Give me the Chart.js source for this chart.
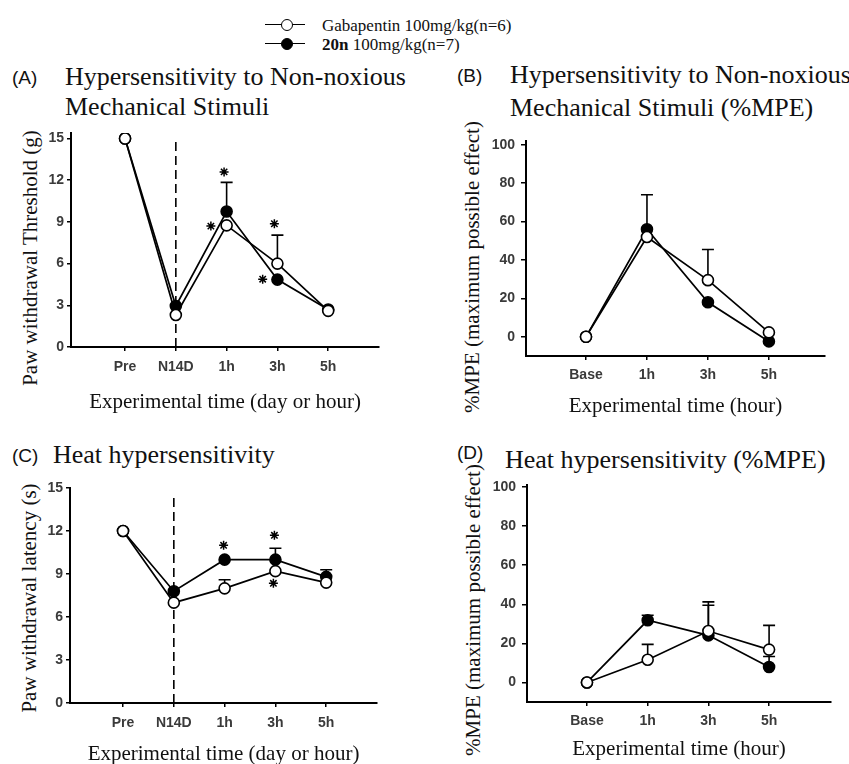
<!DOCTYPE html>
<html>
<head>
<meta charset="utf-8">
<script src="https://cdn.jsdelivr.net/npm/chart.js@4.4.0/dist/chart.umd.min.js"></script>
<style>
body{margin:0;background:#fff;}
#fig{position:relative;width:849px;height:764px;overflow:hidden;background:#fff;}
canvas{position:absolute;}
.t{position:absolute;white-space:nowrap;transform:translateY(-50%);font-family:"Liberation Serif","Times New Roman",serif;color:#111;line-height:1;}
.yt{position:absolute;white-space:nowrap;transform:translate(-50%,-50%) rotate(-90deg);font-family:"Liberation Serif","Times New Roman",serif;font-size:21px;color:#111;line-height:1;}
.lab{font-family:"Liberation Sans",Arial,sans-serif;font-size:19px;}
.ttl{font-size:26px;}
.leg{font-size:17px;}
.ln{position:absolute;width:40px;height:0;border-top:1.7px solid #000;}
.mk{position:absolute;width:10px;height:10px;border:1.5px solid #000;border-radius:50%;}
</style>
</head>
<body>
<div id="fig">
  <!-- legend -->
  <div class="ln" style="left:265px;top:24px"></div>
  <div class="mk" style="left:281px;top:19px;background:#fff"></div>
  <div class="t leg" style="left:322px;top:25px">Gabapentin 100mg/kg(n=6)</div>
  <div class="ln" style="left:265px;top:43px"></div>
  <div class="mk" style="left:281px;top:38px;background:#000"></div>
  <div class="t leg" style="left:322px;top:44px"><b>20n</b> 100mg/kg(n=7)</div>

  <!-- panel titles -->
  <div class="t lab" style="left:12px;top:77px">(A)</div>
  <div class="t ttl" style="left:65px;top:77px">Hypersensitivity to Non-noxious</div>
  <div class="t ttl" style="left:65px;top:107px">Mechanical Stimuli</div>

  <div class="t lab" style="left:457px;top:75px">(B)</div>
  <div class="t ttl" style="left:510px;top:75px">Hypersensitivity to Non-noxious</div>
  <div class="t ttl" style="left:510px;top:108px">Mechanical Stimuli (%MPE)</div>

  <div class="t lab" style="left:12px;top:455px">(C)</div>
  <div class="t ttl" style="left:53px;top:455px">Heat hypersensitivity</div>

  <div class="t lab" style="left:457px;top:452px">(D)</div>
  <div class="t ttl" style="left:505px;top:460px">Heat hypersensitivity (%MPE)</div>

  <!-- y axis titles -->
  <div class="yt" style="left:30px;top:258px">Paw withdrawal Threshold (g)</div>
  <div class="yt" style="left:472px;top:267px">%MPE (maximum possible effect)</div>
  <div class="yt" style="left:29px;top:598px">Paw withdrawal latency (s)</div>
  <div class="yt" style="left:473px;top:610px">%MPE (maximum possible effect)</div>

  <canvas id="cA" width="420" height="300" style="left:0;top:115px"></canvas>
  <canvas id="cB" width="409" height="304" style="left:440px;top:115px"></canvas>
  <canvas id="cC" width="420" height="297" style="left:0;top:470px"></canvas>
  <canvas id="cD" width="409" height="292" style="left:440px;top:470px"></canvas>
</div>
<script>
// x categories
var labelsTime = ['Pre', 'N14D', '1h', '3h', '5h'];
var labelsMpe = ['Base', '1h', '3h', '5h'];

// y tick labels
var ticksThreshold = [0, 3, 6, 9, 12, 15];
var ticksMpe = [0, 20, 40, 60, 80, 100];

// (A) mechanical threshold (g)
var gabaA = [15, 2.3, 8.75, 6.0, 2.6];
var n20A = [15, 2.95, 9.75, 4.85, 2.7];
var errGabaA = [null, null, null, 2.05, null];
var errN20A = [null, null, 2.1, null, null];
var starsA = [{x: 2.95, y: 12.6}, {x: 2.69, y: 8.7}, {x: 3.94, y: 8.87}, {x: 3.71, y: 4.88}];

// (B) mechanical %MPE
var gabaB = [0, 52, 29.5, 2.3];
var n20B = [0, 56, 18, -2.4];
var errGabaB = [null, null, 16, null];
var errN20B = [null, 18, null, null];

// (C) heat latency (s)
var gabaC = [12, 7.0, 8.0, 9.2, 8.4];
var n20C = [12, 7.8, 10.0, 10.0, 8.8];
var errGabaC = [null, null, 0.6, null, null];
var errN20C = [null, null, null, 0.8, 0.5];
var starsC = [{x: 2.98, y: 11.0}, {x: 3.98, y: 11.7}, {x: 3.96, y: 8.35}];

// (D) heat %MPE
var gabaD = [0, 11.6, 26.3, 16.8];
var n20D = [0, 31.8, 24.1, 7.9];
var errGabaD = [null, 7.9, 14.9, 12.4];
var errN20D = [null, 2.6, 15.4, 5.4];

function toPoints(vals){
	return vals.map(function(v, i){ return {x: i + 1, y: v}; });
}

// one sided (upper) error bars, drawn under the markers
var errorBars = {
	id: 'errorBars',
	beforeDatasetsDraw: function(chart){
		var ctx = chart.ctx, xs = chart.scales.x, ys = chart.scales.y;
		chart.data.datasets.forEach(function(ds){
			if (!ds.errors) return;
			ctx.save();
			ctx.strokeStyle = '#000';
			ctx.lineWidth = 1.6;
			ds.errors.forEach(function(e, i){
				if (e == null) return;
				var x = xs.getPixelForValue(i + 1);
				var y0 = ys.getPixelForValue(ds.data[i].y);
				var y1 = ys.getPixelForValue(ds.data[i].y + e);
				ctx.beginPath();
				ctx.moveTo(x, y0); ctx.lineTo(x, y1);
				ctx.moveTo(x - 6, y1); ctx.lineTo(x + 6, y1);
				ctx.stroke();
			});
			ctx.restore();
		});
	}
};

var tickFont = {family: 'Liberation Sans', size: 14, weight: 'bold'};
var titleFont = {family: 'Liberation Serif', size: 21};

function makePanel(id, p){
	var datasets = [
		{label: 'Gabapentin', data: toPoints(p.gaba), errors: p.errGaba,
			borderColor: '#000', borderWidth: 1.7, pointRadius: 5.5, pointBorderWidth: 1.6,
			pointBackgroundColor: '#fff', pointBorderColor: '#000'},
		{label: '20n', data: toPoints(p.n20), errors: p.errN20,
			borderColor: '#000', borderWidth: 1.7, pointRadius: 5.5, pointBorderWidth: 1.6,
			pointBackgroundColor: '#000', pointBorderColor: '#000'}
	];
	if (p.stars) {
		datasets.push({label: 'p<0.05', data: p.stars, showLine: false, pointStyle: 'star',
			pointRadius: 4.5, pointBorderWidth: 1.5, pointBorderColor: '#000', borderColor: '#000'});
	}
	if (p.dash) {
		datasets.push({label: 'N14D', data: [{x: 2, y: 0}, {x: 2, y: p.dash}], borderDash: [9, 5],
			borderWidth: 1.6, borderColor: '#000', pointRadius: 0});
	}
	return new Chart(document.getElementById(id), {
		type: 'line',
		data: {datasets: datasets},
		plugins: [errorBars],
		options: {
			responsive: false,
			animation: false,
			devicePixelRatio: 1,
			layout: {padding: p.pad},
			plugins: {legend: {display: false}, tooltip: {enabled: false}},
			scales: {
				x: {
					type: 'linear', min: p.xmin, max: p.xmax,
					afterBuildTicks: function(s){ s.ticks = p.labels.map(function(l, i){ return {value: i + 1}; }); },
					afterFit: function(s){ s.height = p.xh; },
					ticks: {callback: function(v){ return p.labels[v - 1]; }, font: tickFont, color: '#3a3a3a',
						padding: p.xpad, maxRotation: 0, autoSkip: false},
					grid: {drawOnChartArea: false, drawTicks: true, tickLength: 4, color: '#000', lineWidth: 1.5},
					border: {display: true, color: '#000', width: 2},
					title: {display: true, text: p.xtitle, font: titleFont, color: '#111', padding: 0}
				},
				y: {
					type: 'linear', min: p.ymin, max: p.ymax,
					afterBuildTicks: function(s){ s.ticks = p.yticks.map(function(v){ return {value: v}; }); },
					afterFit: function(s){ s.width = p.yw; },
					ticks: {font: tickFont, color: '#3a3a3a', padding: p.ypad},
					grid: {drawOnChartArea: false, drawTicks: true, tickLength: p.ytl, color: '#000', lineWidth: 1.5},
					border: {display: true, color: '#000', width: 2}
				}
			}
		}
	});
}

window.onload = function(){
	makePanel('cA', {
		labels: labelsTime, yticks: ticksThreshold, gaba: gabaA, n20: n20A,
		errGaba: errGabaA, errN20: errN20A, stars: starsA, dash: 15,
		xmin: -0.064, xmax: 6.0, ymin: 0, ymax: 15.4,
		pad: {left: 18, top: 18, right: 41, bottom: 0}, yw: 53, xh: 68, xpad: 8, ypad: 3, ytl: 4,
		xtitle: 'Experimental time (day or hour)'
	});
	makePanel('cB', {
		labels: labelsMpe, yticks: ticksMpe, gaba: gabaB, n20: n20B,
		errGaba: errGabaB, errN20: errN20B,
		xmin: 0.016, xmax: 4.92, ymin: -10, ymax: 102,
		pad: {left: 20, top: 26, right: 24, bottom: 0}, yw: 66, xh: 63, xpad: 7, ypad: 6, ytl: 5,
		xtitle: 'Experimental time (hour)'
	});
	makePanel('cC', {
		labels: labelsTime, yticks: ticksThreshold, gaba: gabaC, n20: n20C,
		errGaba: errGabaC, errN20: errN20C, stars: starsC, dash: 14.4,
		xmin: -0.044, xmax: 6.0, ymin: 0, ymax: 15,
		pad: {left: 16, top: 18, right: 43, bottom: 0}, yw: 54, xh: 64, xpad: 8, ypad: 3, ytl: 4,
		xtitle: 'Experimental time (day or hour)'
	});
	makePanel('cD', {
		labels: labelsMpe, yticks: ticksMpe, gaba: gabaD, n20: n20D,
		errGaba: errGabaD, errN20: errN20D,
		xmin: 0.012, xmax: 5.02, ymin: -10, ymax: 101,
		pad: {left: 21, top: 15, right: 18, bottom: 0}, yw: 66, xh: 60, xpad: 7, ypad: 6, ytl: 5,
		xtitle: 'Experimental time (hour)'
	});
};
</script>
</body>
</html>
